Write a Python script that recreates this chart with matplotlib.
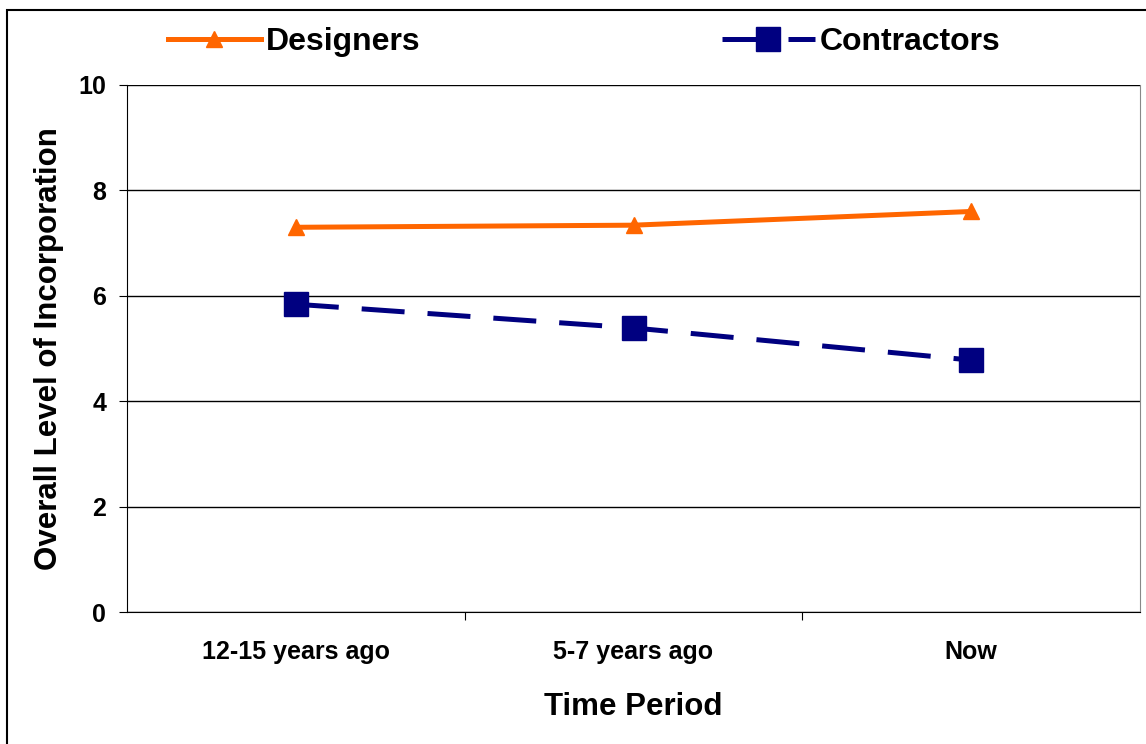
import matplotlib.pyplot as plt
from matplotlib.patches import Rectangle

plt.rcParams['font.family'] = ['Liberation Sans', 'DejaVu Sans']
plt.rcParams['font.weight'] = 'bold'

periods = ['12-15 years ago', '5-7 years ago', 'Now']
designers = [7.3, 7.34, 7.6]
contractors = [5.84, 5.39, 4.78]

W, H = 1146, 744
fig = plt.figure(figsize=(W/100, H/100), dpi=100)
ax = fig.add_axes([127/W, 1 - 612/H, (1140-127)/W, (612-85)/H])

x = range(len(periods))
l1, = ax.plot(x, designers, color='#FF6600', lw=3.6, marker='^', ms=11, label='Designers', zorder=3)
l2, = ax.plot(x, contractors, color='#000080', lw=3.6, marker='s', ms=17, label='Contractors',
              dashes=(8.6, 4.6), zorder=3)

ax.set_xlim(-0.5, 2.5)
ax.set_ylim(0, 10)
ax.set_yticks([0, 2, 4, 6, 8, 10])
ax.yaxis.grid(True, color='black', lw=1)
ax.set_axisbelow(True)
ax.set_xticks([0.5, 1.5])
ax.set_xticks(list(x), minor=True)
ax.set_xticklabels(['', ''])
ax.set_xticklabels(periods, minor=True, fontsize=18, fontweight='bold')
ax.tick_params(axis='x', which='minor', length=0, pad=20)
ax.tick_params(axis='x', which='major', length=6, direction='out')
ax.tick_params(axis='y', length=6, labelsize=18, pad=9)
ax.spines['right'].set_color('#888888')
ax.spines['top'].set_visible(False)
ax.set_xlabel('Time Period', fontsize=22.5, fontweight='bold', labelpad=20)
ax.set_ylabel('Overall Level of Incorporation', fontsize=22.5, fontweight='bold', labelpad=10)

# legend entries placed separately, like the original
leg1 = fig.legend(handles=[l1], loc='center left', bbox_to_anchor=(168/W, 1 - 42/H), frameon=False,
                  fontsize=23, handlelength=2.9, handletextpad=0.15, borderpad=0, borderaxespad=0)
leg2 = fig.legend(handles=[l2], loc='center left', bbox_to_anchor=(722/W, 1 - 42/H), frameon=False,
                  fontsize=23, handlelength=2.9, handletextpad=0.15, borderpad=0, borderaxespad=0)

fig.patches.append(Rectangle((7/W, -0.1), 1.2, 1 - 10/H + 0.1, transform=fig.transFigure,
                             fill=False, edgecolor='black', lw=1.5))

fig.savefig('out.png', dpi=100)
